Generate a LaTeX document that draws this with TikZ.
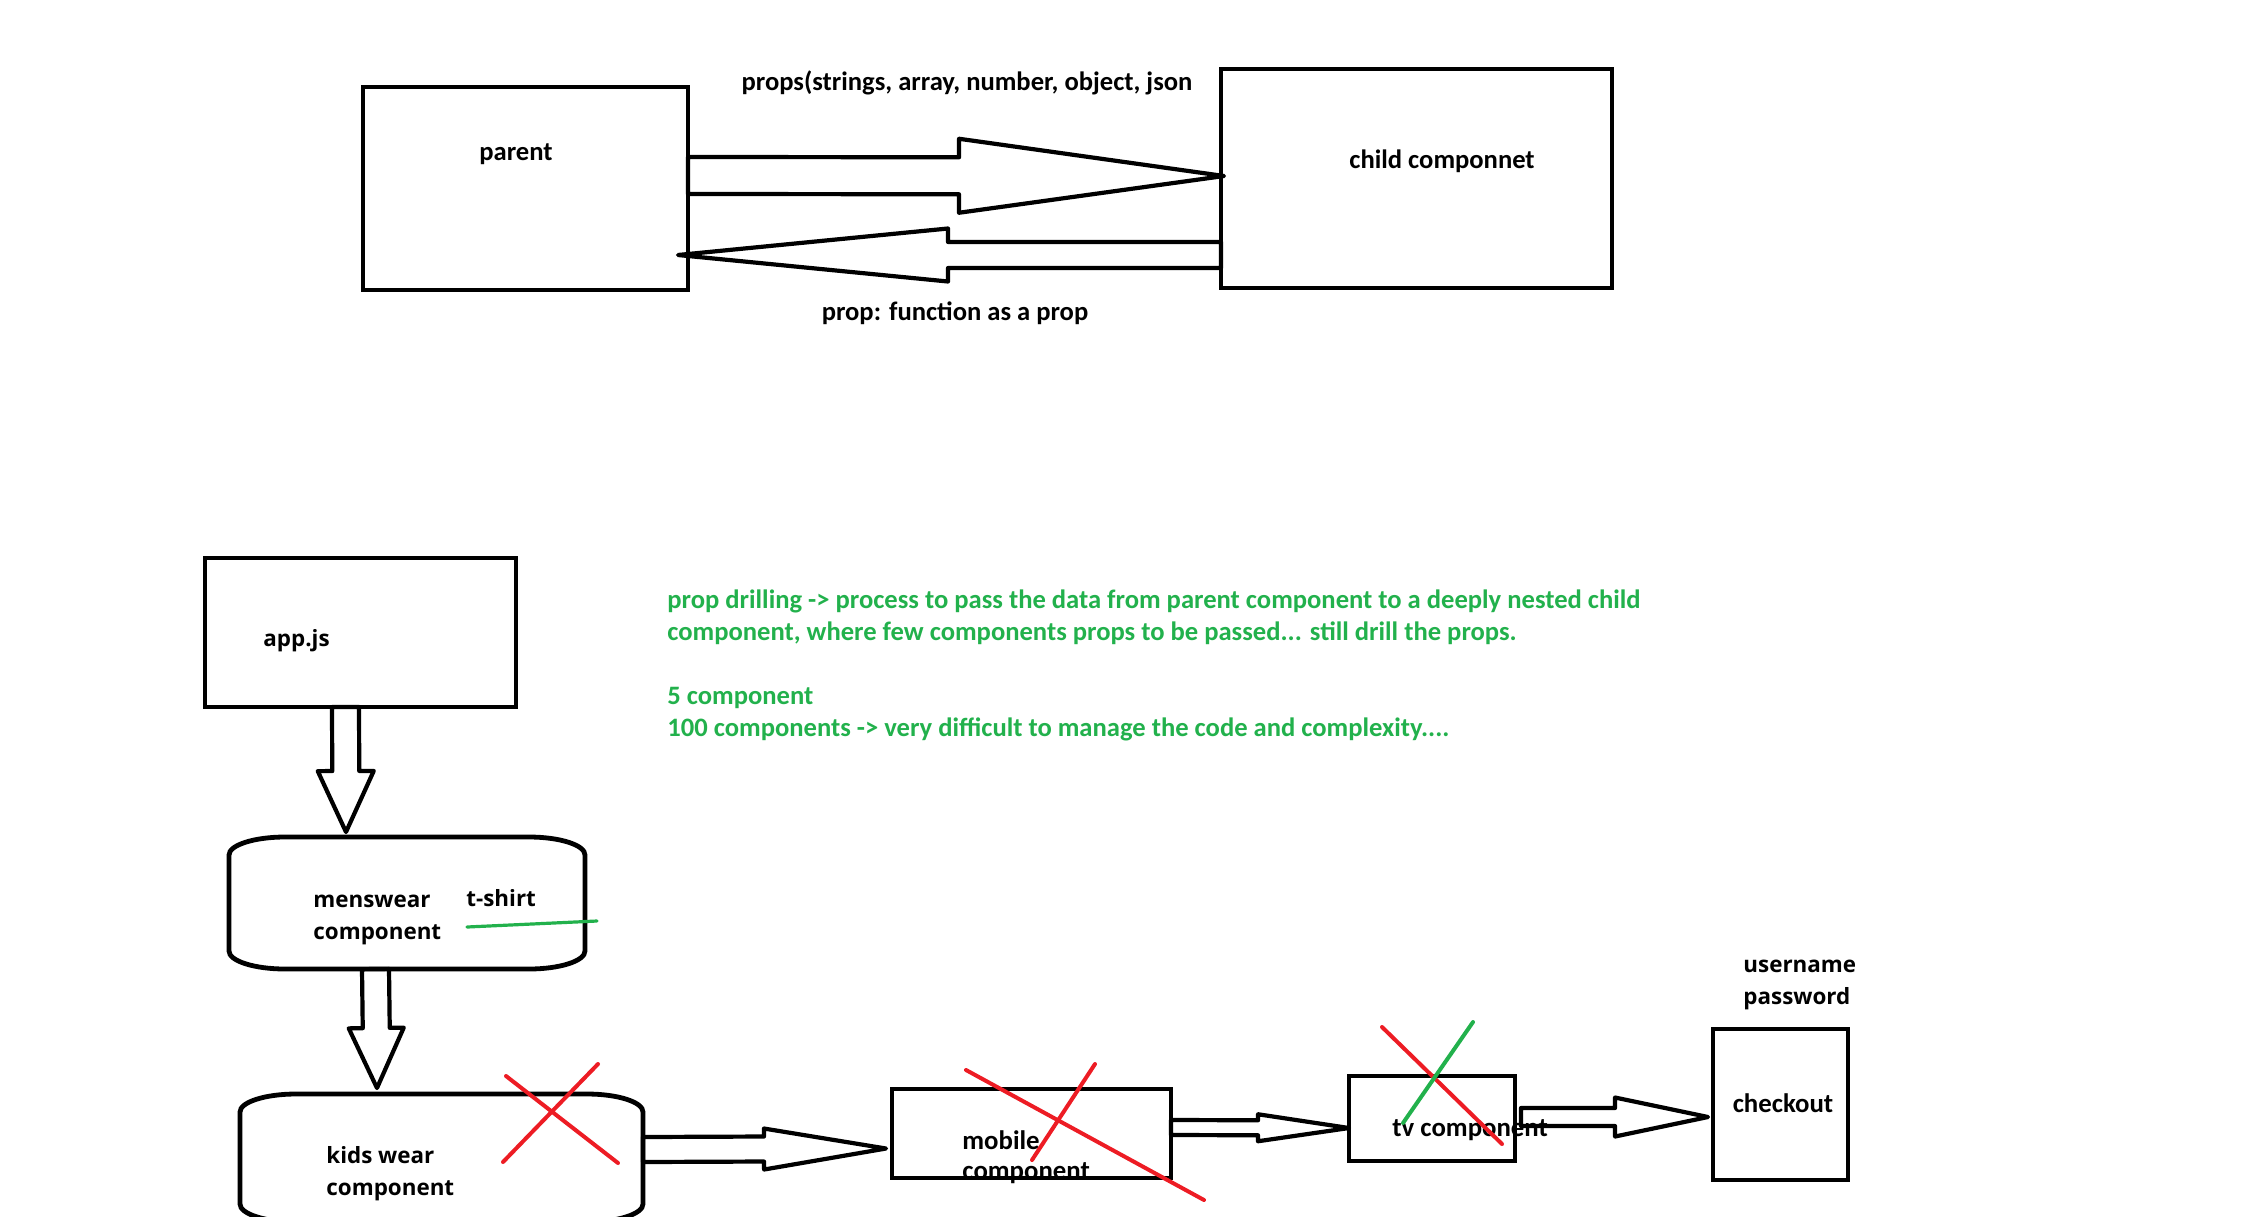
\documentclass[tikz,border=0pt]{standalone}
\usepackage{fontspec}
\setmainfont{Carlito}
\newfontfamily\segoefont{Open Sans}
\usetikzlibrary{calc,fit,positioning}
\definecolor{paintgreen}{RGB}{34,177,76}
\definecolor{paintred}{RGB}{237,28,36}

% hollow block arrow: start, tip, shaft half width, head half width, head length
\newcommand{\fatarrow}[5]{%
  \coordinate (fa-s) at #1;
  \coordinate (fa-t) at #2;
  \coordinate (fa-h) at ($(fa-t)!#5!(fa-s)$);
  \draw[fat] ($(fa-s)!#3!90:(fa-t)$) -- ($(fa-h)!#3!90:(fa-t)$) -- ($(fa-h)!#4!90:(fa-t)$) -- (fa-t)
    -- ($(fa-h)!#4!-90:(fa-t)$) -- ($(fa-h)!#3!-90:(fa-t)$) -- ($(fa-s)!#3!-90:(fa-t)$) -- cycle;}

% box with soft elliptic corners round a fitted node
\newcommand{\softbox}[1]{%
  \draw[boxline] ([yshift=-9pt]#1.north west) arc[start angle=180,end angle=90,x radius=28pt,y radius=9pt]
    -- ([xshift=-28pt]#1.north east) arc[start angle=90,end angle=0,x radius=28pt,y radius=9pt]
    -- ([yshift=9pt]#1.south east) arc[start angle=0,end angle=-90,x radius=28pt,y radius=9pt]
    -- ([xshift=28pt]#1.south west) arc[start angle=270,end angle=180,x radius=28pt,y radius=9pt] -- cycle;}

\begin{document}
\begin{tikzpicture}[x=0.5pt,y=-0.5pt,
    box/.style={draw, line width=2.4pt, inner sep=0pt, outer sep=0pt},
    frame/.style={inner sep=0pt, outer sep=0pt},
    boxline/.style={draw, line width=2.4pt},
    fat/.style={draw, line width=2.1pt, line join=round},
    cal/.style={font=\bfseries\fontsize{13.3pt}{16pt}\selectfont, inner sep=0pt},
    seg/.style={font=\segoefont\bfseries\fontsize{11.2pt}{16pt}\selectfont, inner sep=0pt, align=left},
    strike/.style={line width=2pt, line cap=round, paintred}]
  \useasboundingbox (0,0) rectangle (2268,1216);

  % top: parent and child
  \node[box, fit={(363,87) (688,290)}] (parent) {};
  \node[box, fit={(1221,69) (1612,288)}] (child) {};
  \node[cal, anchor=base] (parentlbl) at (516,160) {parent};
  \node[cal, anchor=base] (childlbl) at (1442,168) {child componnet};
  \node[cal, anchor=base] (propslbl) at (967,90) {props(strings, array, number, object, json};
  \node[cal, anchor=base] (funclbl) at (955,320) {prop: function as a prop};

  \fatarrow{([yshift=6.5pt]parent.east)}{([xshift=1.5pt,yshift=1.25pt]child.west)}{9.25pt}{18.5pt}{132.5pt}
  \fatarrow{([yshift=-38.25pt]child.west)}{([xshift=-5pt,yshift=-33.25pt]parent.east)}{6.5pt}{13.25pt}{135pt}

  % bottom: drilling chain
  \node[box, fit={(205,558) (516,707)}] (appjs) {};
  \node[seg, anchor=base west] (appjslbl) at (263,646) {app.js};

  \node[frame, fit={(229,837) (585,969)}] (mens) {};
  \softbox{mens}
  \node[seg, anchor=west] (menslbl) at (313,920) {menswear\\component};
  \node[seg, anchor=base west] (tshirt) at (466,906) {t-shirt};
  \draw[paintgreen, line width=1.6pt, line cap=round] (467,927) -- (597,921);

  \node[frame, fit={(240,1094) (643,1222)}] (kids) {};
  \softbox{kids}
  \node[seg, anchor=west] (kidslbl) at (326,1174) {kids wear\\component};

  \node[cal, anchor=west, align=left, font=\bfseries\fontsize{13.4pt}{15pt}\selectfont] (mobilelbl) at (962,1157) {mobile\\component};
  \node[box, fit={(892,1089) (1171,1178)}] (mobile) {};

  \node[box, fit={(1349,1076) (1515,1161)}] (tv) {};
  \node[cal, anchor=base west, font=\bfseries\fontsize{13.4pt}{15pt}\selectfont] (tvlbl) at (1392,1136) {tv component};

  \node[box, fit={(1713,1029) (1848,1180)}] (checkout) {};
  \node[cal, anchor=base, font=\bfseries\fontsize{13.4pt}{15pt}\selectfont] (checkoutlbl) at (1783,1112) {checkout};
  \node[seg, anchor=west] (loginlbl) at (1743,985) {username\\password};

  \fatarrow{([xshift=-7.5pt]appjs.south)}{([xshift=-30.5pt,yshift=2.5pt]mens.north)}{6.75pt}{14pt}{30.5pt}
  \fatarrow{([xshift=-15.75pt]mens.south)}{([xshift=-32.25pt,yshift=3pt]kids.north)}{6.75pt}{13.75pt}{30pt}
  \fatarrow{([yshift=4.25pt]kids.east)}{([xshift=-3pt,yshift=-7.5pt]mobile.west)}{6.25pt}{10.25pt}{61pt}
  \fatarrow{([yshift=3pt]mobile.east)}{([yshift=-4.75pt]tv.west)}{3.75pt}{6.75pt}{45.5pt}
  \fatarrow{([xshift=3pt,yshift=0.75pt]tv.east)}{([xshift=-2.5pt,yshift=-6.25pt]checkout.west)}{4.5pt}{9.75pt}{46.5pt}

  % note
  \node[cal, anchor=west, align=left, text=paintgreen] (drillnote) at (667,665)
    {prop drilling -> process to pass the data from parent component to a deeply nested child\\
     component, where few components props to be passed... still drill the props.\\[16pt]
     5 component\\
     100 components -> very difficult to manage the code and complexity....};

  % crossed out
  \draw[strike] (506,1076) -- (618,1163);
  \draw[strike] (503,1162) -- (598,1064);
  \draw[strike] (966,1070) -- (1204,1200);
  \draw[strike] (1095,1064) -- (1032,1160);
  \draw[strike] (1382,1027) -- (1502,1144);
  \draw[strike, paintgreen] (1473,1022) -- (1403,1123);
\end{tikzpicture}
\end{document}
